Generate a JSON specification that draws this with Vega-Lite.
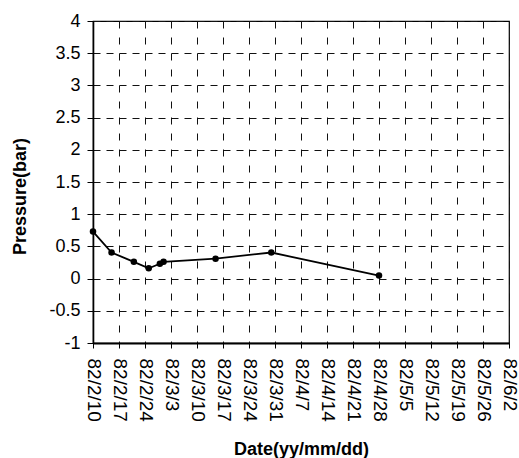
{
  "$schema": "https://vega.github.io/schema/vega-lite/v6.json",
  "autosize": "none",
  "padding": {"left": 93, "top": 21, "right": 10, "bottom": 115},
  "width": 416,
  "height": 322,
  "background": "white",
  "config": {
    "view": {"stroke": "black", "strokeWidth": 1.2},
    "font": "Liberation Sans",
    "axis": {"labelFont": "Liberation Sans", "titleFont": "Liberation Sans", "labelColor": "black", "titleColor": "black"}
  },
  "data": {
    "values": [
      {"date": "1982-02-10", "pressure": 0.73},
      {"date": "1982-02-15", "pressure": 0.405},
      {"date": "1982-02-21", "pressure": 0.26},
      {"date": "1982-02-25", "pressure": 0.16},
      {"date": "1982-02-28", "pressure": 0.23},
      {"date": "1982-03-01", "pressure": 0.26},
      {"date": "1982-03-15", "pressure": 0.31},
      {"date": "1982-03-30", "pressure": 0.405},
      {"date": "1982-04-28", "pressure": 0.047}
    ]
  },
  "mark": {"type": "line", "color": "black", "strokeWidth": 1.8, "point": {"filled": true, "color": "black", "size": 42, "opacity": 1}},
  "encoding": {
    "x": {
      "field": "date",
      "type": "temporal",
      "title": "Date(yy/mm/dd)",
      "scale": {
        "type": "utc",
        "nice": false,
        "domain": [
          {"year": 1982, "month": 2, "date": 10, "utc": true},
          {"year": 1982, "month": 6, "date": 2, "utc": true}
        ]
      },
      "axis": {
        "values": [
          {"year": 1982, "month": 2, "date": 10, "utc": true},
          {"year": 1982, "month": 2, "date": 17, "utc": true},
          {"year": 1982, "month": 2, "date": 24, "utc": true},
          {"year": 1982, "month": 3, "date": 3, "utc": true},
          {"year": 1982, "month": 3, "date": 10, "utc": true},
          {"year": 1982, "month": 3, "date": 17, "utc": true},
          {"year": 1982, "month": 3, "date": 24, "utc": true},
          {"year": 1982, "month": 3, "date": 31, "utc": true},
          {"year": 1982, "month": 4, "date": 7, "utc": true},
          {"year": 1982, "month": 4, "date": 14, "utc": true},
          {"year": 1982, "month": 4, "date": 21, "utc": true},
          {"year": 1982, "month": 4, "date": 28, "utc": true},
          {"year": 1982, "month": 5, "date": 5, "utc": true},
          {"year": 1982, "month": 5, "date": 12, "utc": true},
          {"year": 1982, "month": 5, "date": 19, "utc": true},
          {"year": 1982, "month": 5, "date": 26, "utc": true},
          {"year": 1982, "month": 6, "date": 2, "utc": true}
        ],
        "labelExpr": "'82/' + (utcmonth(datum.value) + 1) + '/' + utcdate(datum.value)",
        "labelAngle": 90,
        "labelFontSize": 19,
        "labelPadding": 10,
        "labelOverlap": false,
        "labelFlush": false,
        "labelBound": false,
        "tickSize": 5,
        "tickColor": "black",
        "domainColor": "black",
        "domainWidth": 2.2,
        "grid": true,
        "gridColor": "#111",
        "gridDash": [7, 9],
        "gridWidth": 1,
        "gridOpacity": 1,
        "titleFontSize": 18,
        "titleFontWeight": "bold",
        "titleY": 111,
        "titleBaseline": "alphabetic"
      }
    },
    "y": {
      "field": "pressure",
      "type": "quantitative",
      "title": "Pressure(bar)",
      "scale": {"domain": [-1, 4], "nice": false, "zero": false},
      "axis": {
        "values": [-1, -0.5, 0, 0.5, 1, 1.5, 2, 2.5, 3, 3.5, 4],
        "labelExpr": "'' + datum.value",
        "labelFontSize": 18,
        "labelPadding": 7,
        "tickSize": 6,
        "tickColor": "black",
        "domainColor": "black",
        "domainWidth": 1.6,
        "grid": true,
        "gridColor": "#111",
        "gridDash": [7, 6],
        "gridWidth": 1,
        "gridOpacity": 1,
        "titleFontSize": 18,
        "titleFontWeight": "bold",
        "titleX": -68,
        "titleY": 175,
        "titleAlign": "center",
        "titleBaseline": "alphabetic",
        "titleAngle": -90
      }
    }
  }
}
